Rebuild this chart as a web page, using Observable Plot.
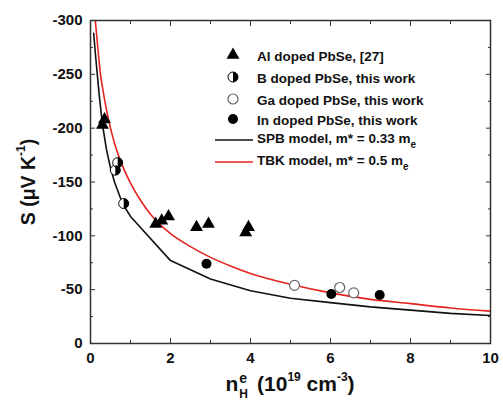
<!DOCTYPE html>
<html><head><meta charset="utf-8">
<script src="https://cdn.jsdelivr.net/npm/d3@7"></script>
<script src="https://cdn.jsdelivr.net/npm/@observablehq/plot@0.6"></script>
<style>
body{margin:0;background:#fff;font-family:"Liberation Sans",Arial,sans-serif}
#wrap{position:relative;width:503px;height:400px;overflow:hidden}
.lg{position:absolute;height:20px;line-height:20px;font-size:13.5px;font-weight:bold;color:#111;white-space:nowrap}
.lgs{position:absolute;left:213px;width:42px;height:20px}
.ylab{position:absolute;left:28px;top:182px;transform:translate(-50%,-50%) rotate(-90deg);font-size:19.5px;font-weight:bold;white-space:nowrap;color:#111}
.xlab{position:absolute;left:290px;top:373px;line-height:22px;transform:translateX(-50%);font-size:21px;font-weight:bold;white-space:nowrap;color:#111}
sup{font-size:12px;vertical-align:10px;line-height:0}
</style></head>
<body><div id="wrap"></div>
<script>
// ---- data ----
const alX = [0.30, 0.35, 1.63, 1.78, 1.95, 2.65, 2.95, 3.88, 3.95];
const alS = [-203, -208, -111, -114, -118, -108, -111, -103, -108];
const bX = [0.62, 0.68, 0.83];
const bS = [-161, -168, -130];
const gaX = [5.1, 6.23, 6.58];
const gaS = [-54, -52, -47];
const inX = [2.9, 6.02, 7.23];
const inS = [-74, -46, -45];
const spbX = [0.08, 0.12, 0.17, 0.22, 0.3, 0.4, 0.5, 0.6, 0.8, 1.0, 2, 3, 4, 5, 6, 7, 8, 9, 10];
const spbS = [-288, -270, -250, -230, -203, -180, -163, -150, -130, -118, -77, -60, -49, -42, -38, -34, -31, -28, -26];
const tbkX = [0.12, 0.2, 0.25, 0.3, 0.4, 0.5, 0.6, 0.8, 1.0, 1.25, 1.5, 2, 2.5, 3, 3.5, 4, 5, 6, 7, 8, 9, 10];
const tbkS = [-300, -268, -250, -238, -217, -200, -186, -165, -149, -133, -120, -102, -90, -80, -72, -65, -55, -47, -41, -37, -33, -30];
const xTicks = [0, 2, 4, 6, 8, 10];
const xMinor = [1, 3, 5, 7, 9];
const yTicks = [0, -50, -100, -150, -200, -250, -300];
const yMinor = [-25, -75, -125, -175, -225, -275];
const legendLabels = ["Al doped PbSe, [27]", "B doped PbSe, this work", "Ga doped PbSe, this work", "In doped PbSe, this work", "SPB model, m* = 0.33 m", "TBK model, m* = 0.5 m"];

const pts = (xs, ys) => xs.map((x, i) => ({x, y: ys[i]}));
const halfRight = {draw(ctx, size) { const r = Math.sqrt(size / Math.PI); ctx.moveTo(0, -r); ctx.arc(0, 0, r, -Math.PI / 2, Math.PI / 2); ctx.closePath(); }};
const red = "#e3241f", ax = "#333";
const blank = () => "";

const chart = Plot.plot({
  width: 503, height: 400,
  marginLeft: 90, marginRight: 13, marginTop: 20, marginBottom: 57,
  style: {fontFamily: "'Liberation Sans', Arial, sans-serif", background: "white", color: "#111"},
  x: {domain: [0, 10]},
  y: {domain: [0, -300]},
  marks: [
    Plot.line(pts(spbX, spbS), {x: "x", y: "y", stroke: "#111", strokeWidth: 1.6, clip: true}),
    Plot.line(pts(tbkX, tbkS), {x: "x", y: "y", stroke: red, strokeWidth: 1.6, curve: "monotone-x", clip: true}),
    Plot.dot(pts(alX, alS), {x: "x", y: "y", symbol: "triangle", r: 4.8, fill: "#000"}),
    Plot.dot(pts(bX, bS), {x: "x", y: "y", r: 5, fill: "white", stroke: "#000", strokeWidth: 1}),
    Plot.dot(pts(bX, bS), {x: "x", y: "y", r: 5, symbol: halfRight, fill: "#000"}),
    Plot.dot(pts(gaX, gaS), {x: "x", y: "y", r: 5, fill: "white", stroke: "#666", strokeWidth: 1.2}),
    Plot.dot(pts(inX, inS), {x: "x", y: "y", r: 5, fill: "#000"}),
    Plot.frame({stroke: ax, strokeWidth: 1.5}),
    Plot.axisX(xTicks, {anchor: "bottom", tickSize: -5, tickFormat: blank, label: null, stroke: ax}),
    Plot.axisX(xMinor, {anchor: "bottom", tickSize: -3, tickFormat: blank, label: null, stroke: ax}),
    Plot.axisX(xTicks, {anchor: "top", tickSize: -5, tickFormat: blank, label: null, stroke: ax}),
    Plot.axisX(xMinor, {anchor: "top", tickSize: -3, tickFormat: blank, label: null, stroke: ax}),
    Plot.axisY(yTicks, {anchor: "left", tickSize: -5, tickFormat: blank, label: null, stroke: ax}),
    Plot.axisY(yMinor, {anchor: "left", tickSize: -3, tickFormat: blank, label: null, stroke: ax}),
    Plot.axisY(yTicks, {anchor: "right", tickSize: -5, tickFormat: blank, label: null, stroke: ax}),
    Plot.axisY(yMinor, {anchor: "right", tickSize: -3, tickFormat: blank, label: null, stroke: ax}),
    Plot.axisX(xTicks, {anchor: "bottom", tickSize: 0, tickPadding: 9, label: null, fontSize: 15, fontWeight: "bold", tickFormat: d => `${d}`}),
    Plot.axisY(yTicks, {anchor: "left", tickSize: 0, tickPadding: 8, label: null, fontSize: 15, fontWeight: "bold", tickFormat: d => `${d}`})
  ]
});
const wrap = document.getElementById("wrap");
wrap.appendChild(chart);

// axis titles
const yl = document.createElement("div");
yl.className = "ylab";
yl.innerHTML = "S (μV K<sup>-1</sup>)";
wrap.appendChild(yl);
const xl = document.createElement("div");
xl.className = "xlab";
xl.innerHTML = 'n<span style="display:inline-block;position:relative;width:13px;height:10px"><span style="position:absolute;left:1px;top:-10px;font-size:14px;line-height:14px">e</span><span style="position:absolute;left:1px;top:7px;font-size:12px;line-height:12px">H</span></span> (10<sup>19</sup> cm<sup>-3</sup>)';
wrap.appendChild(xl);

// legend
const rowsY = [55, 77, 99, 119, 140, 162];
const ns = "http://www.w3.org/2000/svg";
legendLabels.forEach((lab, i) => {
  const cy = rowsY[i];
  const s = document.createElementNS(ns, "svg");
  s.setAttribute("class", "lgs"); s.style.top = (cy - 10) + "px";
  s.setAttribute("width", 42); s.setAttribute("height", 20);
  let html = "";
  const cx = 20;
  if (i === 0) html = `<path transform="translate(${cx},10)" d="${d3.symbol(d3.symbolTriangle, Math.PI * 4.8 * 4.8)()}" fill="#000"/>`;
  if (i === 1) html = `<circle cx="${cx}" cy="10" r="5" fill="white" stroke="#000"/><path d="M${cx},5 A5,5 0 0 1 ${cx},15 Z" fill="#000"/>`;
  if (i === 2) html = `<circle cx="${cx}" cy="10" r="5" fill="white" stroke="#666" stroke-width="1.2"/>`;
  if (i === 3) html = `<circle cx="${cx}" cy="10" r="5" fill="#000"/>`;
  if (i === 4) html = `<line x1="2" x2="40" y1="10" y2="10" stroke="#111" stroke-width="1.6"/>`;
  if (i === 5) html = `<line x1="2" x2="40" y1="10" y2="10" stroke="${red}" stroke-width="1.6"/>`;
  s.innerHTML = html;
  wrap.appendChild(s);
  const t = document.createElement("div");
  t.className = "lg"; t.style.left = "257px"; t.style.top = (cy - 10 + (i >= 4 ? -1 : 2)) + "px";
  t.innerHTML = i >= 4 ? lab + '<span style="font-size:10px;position:relative;top:5px">e</span>' : lab;
  wrap.appendChild(t);
});
</script>
</body></html>
